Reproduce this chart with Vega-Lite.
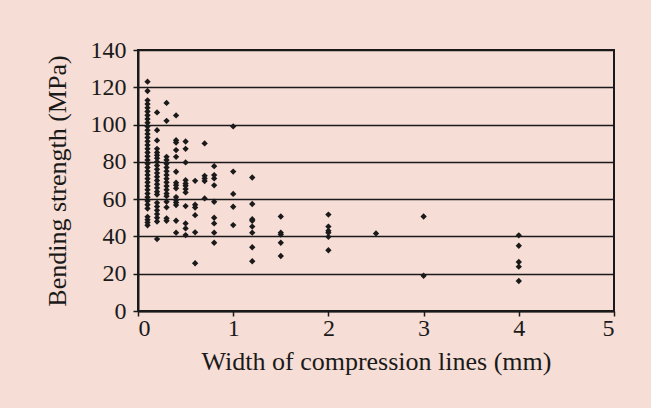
{
  "$schema": "https://vega.github.io/schema/vega-lite/v6.json",
  "autosize": {"type": "none"},
  "width": 476,
  "height": 261,
  "padding": {"left": 138, "top": 50, "right": 37, "bottom": 97},
  "background": "#f6ddd5",
  "config": {
    "font": "Liberation Serif",
    "view": {"stroke": "#1a1a1a", "strokeWidth": 2},
    "axis": {
      "labelFont": "Liberation Serif",
      "titleFont": "Liberation Serif",
      "labelFontSize": 24,
      "titleFontSize": 26,
      "titleFontWeight": "normal",
      "labelColor": "#1a1a1a",
      "titleColor": "#1a1a1a",
      "domainColor": "#1a1a1a",
      "domainWidth": 2,
      "tickColor": "#1a1a1a",
      "tickWidth": 1.5,
      "tickSize": 5
    }
  },
  "data": {
    "values": [
      {"w": 0.1, "s": 123}, {"w": 0.1, "s": 118}, {"w": 0.1, "s": 113}, {"w": 0.1, "s": 111},
      {"w": 0.1, "s": 109}, {"w": 0.1, "s": 107}, {"w": 0.1, "s": 105}, {"w": 0.1, "s": 103},
      {"w": 0.1, "s": 101}, {"w": 0.1, "s": 99}, {"w": 0.1, "s": 97}, {"w": 0.1, "s": 95},
      {"w": 0.1, "s": 93}, {"w": 0.1, "s": 91}, {"w": 0.1, "s": 89}, {"w": 0.1, "s": 87},
      {"w": 0.1, "s": 85}, {"w": 0.1, "s": 83}, {"w": 0.1, "s": 81}, {"w": 0.1, "s": 79},
      {"w": 0.1, "s": 77}, {"w": 0.1, "s": 75}, {"w": 0.1, "s": 73}, {"w": 0.1, "s": 71},
      {"w": 0.1, "s": 69}, {"w": 0.1, "s": 67}, {"w": 0.1, "s": 65}, {"w": 0.1, "s": 63},
      {"w": 0.1, "s": 61}, {"w": 0.1, "s": 59}, {"w": 0.1, "s": 57}, {"w": 0.1, "s": 55},
      {"w": 0.1, "s": 50.5}, {"w": 0.1, "s": 49}, {"w": 0.1, "s": 47.5}, {"w": 0.1, "s": 46},

      {"w": 0.2, "s": 106.5}, {"w": 0.2, "s": 97}, {"w": 0.2, "s": 91.5}, {"w": 0.2, "s": 87},
      {"w": 0.2, "s": 85}, {"w": 0.2, "s": 83.5}, {"w": 0.2, "s": 82}, {"w": 0.2, "s": 80},
      {"w": 0.2, "s": 78}, {"w": 0.2, "s": 76}, {"w": 0.2, "s": 74}, {"w": 0.2, "s": 72},
      {"w": 0.2, "s": 70}, {"w": 0.2, "s": 68}, {"w": 0.2, "s": 66}, {"w": 0.2, "s": 64},
      {"w": 0.2, "s": 62.5}, {"w": 0.2, "s": 58}, {"w": 0.2, "s": 56}, {"w": 0.2, "s": 54},
      {"w": 0.2, "s": 52}, {"w": 0.2, "s": 50}, {"w": 0.2, "s": 48}, {"w": 0.2, "s": 38.6},

      {"w": 0.3, "s": 111.6}, {"w": 0.3, "s": 102}, {"w": 0.3, "s": 82.7}, {"w": 0.3, "s": 81},
      {"w": 0.3, "s": 79}, {"w": 0.3, "s": 77}, {"w": 0.3, "s": 75}, {"w": 0.3, "s": 73},
      {"w": 0.3, "s": 71}, {"w": 0.3, "s": 69}, {"w": 0.3, "s": 67}, {"w": 0.3, "s": 65},
      {"w": 0.3, "s": 63}, {"w": 0.3, "s": 61.6}, {"w": 0.3, "s": 58.6}, {"w": 0.3, "s": 55.6},
      {"w": 0.3, "s": 49.7}, {"w": 0.3, "s": 48.4},

      {"w": 0.4, "s": 104.9}, {"w": 0.4, "s": 91.6}, {"w": 0.4, "s": 90.4}, {"w": 0.4, "s": 86.3},
      {"w": 0.4, "s": 82.7}, {"w": 0.4, "s": 74.7}, {"w": 0.4, "s": 68.8}, {"w": 0.4, "s": 67.5},
      {"w": 0.4, "s": 65.8}, {"w": 0.4, "s": 61.1}, {"w": 0.4, "s": 59.5}, {"w": 0.4, "s": 58.2},
      {"w": 0.4, "s": 56.8}, {"w": 0.4, "s": 48.4}, {"w": 0.4, "s": 42},

      {"w": 0.5, "s": 90.9}, {"w": 0.5, "s": 87}, {"w": 0.5, "s": 79.7}, {"w": 0.5, "s": 70.2},
      {"w": 0.5, "s": 68.4}, {"w": 0.5, "s": 67.2}, {"w": 0.5, "s": 65.4}, {"w": 0.5, "s": 63.6},
      {"w": 0.5, "s": 56.3}, {"w": 0.5, "s": 47}, {"w": 0.5, "s": 44.3}, {"w": 0.5, "s": 40.7},

      {"w": 0.6, "s": 69.8}, {"w": 0.6, "s": 57}, {"w": 0.6, "s": 55.5}, {"w": 0.6, "s": 51.4},
      {"w": 0.6, "s": 42.2}, {"w": 0.6, "s": 25.6},

      {"w": 0.7, "s": 89.9}, {"w": 0.7, "s": 72.5}, {"w": 0.7, "s": 71.1}, {"w": 0.7, "s": 69.7},
      {"w": 0.7, "s": 60.4},

      {"w": 0.8, "s": 77.7}, {"w": 0.8, "s": 72.9}, {"w": 0.8, "s": 71.1}, {"w": 0.8, "s": 67.4},
      {"w": 0.8, "s": 58.6}, {"w": 0.8, "s": 50}, {"w": 0.8, "s": 47}, {"w": 0.8, "s": 42},
      {"w": 0.8, "s": 36.6},

      {"w": 1.0, "s": 99}, {"w": 1.0, "s": 74.8}, {"w": 1.0, "s": 62.8}, {"w": 1.0, "s": 55.9},
      {"w": 1.0, "s": 46.1},

      {"w": 1.2, "s": 71.6}, {"w": 1.2, "s": 57.4}, {"w": 1.2, "s": 49.2}, {"w": 1.2, "s": 48.4},
      {"w": 1.2, "s": 45.3}, {"w": 1.2, "s": 42}, {"w": 1.2, "s": 34.2}, {"w": 1.2, "s": 26.7},

      {"w": 1.5, "s": 50.7}, {"w": 1.5, "s": 42}, {"w": 1.5, "s": 41}, {"w": 1.5, "s": 36.6},
      {"w": 1.5, "s": 29.5},

      {"w": 2.0, "s": 51.7}, {"w": 2.0, "s": 45.3}, {"w": 2.0, "s": 43}, {"w": 2.0, "s": 42},
      {"w": 2.0, "s": 39.8}, {"w": 2.0, "s": 32.6},

      {"w": 2.5, "s": 41.6},

      {"w": 3.0, "s": 50.7}, {"w": 3.0, "s": 18.9},

      {"w": 4.0, "s": 40.6}, {"w": 4.0, "s": 35}, {"w": 4.0, "s": 26.3}, {"w": 4.0, "s": 23.8},
      {"w": 4.0, "s": 16.1}
    ]
  },
  "mark": {"type": "point", "shape": "diamond", "filled": true, "color": "#1a1a1a", "opacity": 1, "size": 40},
  "encoding": {
    "x": {
      "field": "w",
      "type": "quantitative",
      "scale": {"domain": [0, 5], "nice": false},
      "axis": {"values": [0, 1, 2, 3, 4, 5], "grid": false, "title": "Width of compression lines (mm)", "labelPadding": 0, "titlePadding": 8}
    },
    "y": {
      "field": "s",
      "type": "quantitative",
      "scale": {"domain": [0, 140], "nice": false},
      "axis": {
        "values": [0, 20, 40, 60, 80, 100, 120, 140],
        "grid": true,
        "gridColor": "#1a1a1a",
        "gridWidth": 1.5,
        "gridOpacity": 1,
        "title": "Bending strength (MPa)",
        "labelPadding": 7,
        "titlePadding": 20
      }
    }
  }
}
